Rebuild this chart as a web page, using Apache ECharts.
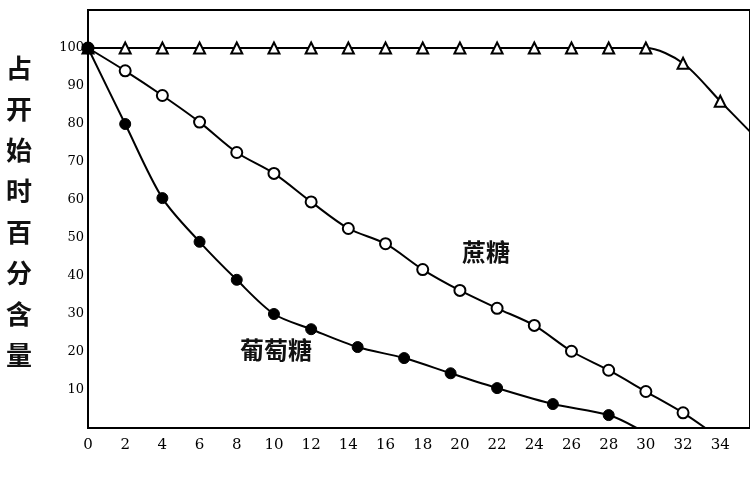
<!DOCTYPE html>
<html>
<head>
<meta charset="utf-8"/>
<script src="https://cdn.jsdelivr.net/npm/echarts@6/dist/echarts.min.js"></script>
<style>html,body{margin:0;background:#fff}#container{width:750px;height:500px}</style>
</head>
<body>
<div id="container"></div>
<script type="text/javascript">
    // 三角 (unlabelled), 蔗糖 (open circles), 葡萄糖 (filled dots)
    var triX = [0, 2, 4, 6, 8, 10, 12, 14, 16, 18, 20, 22, 24, 26, 28, 30, 32, 34, 35.6];
    var triY = [100, 100, 100, 100, 100, 100, 100, 100, 100, 100, 100, 100, 100, 100, 100, 100, 96, 86, 78];
    var sucX = [0, 2, 4, 6, 8, 10, 12, 14, 16, 18, 20, 22, 24, 26, 28, 30, 32, 33.2];
    var sucY = [100, 94, 87.5, 80.5, 72.5, 67, 59.5, 52.5, 48.5, 41.7, 36.2, 31.5, 27, 20.2, 15.2, 9.6, 4, 0];
    var gluX = [0, 2, 4, 6, 8, 10, 12, 14.5, 17, 19.5, 22, 25, 28, 29.5];
    var gluY = [100, 80, 60.5, 49, 39, 30, 26, 21.3, 18.4, 14.4, 10.5, 6.3, 3.4, 0];

    function pairs(xs, ys) {
        var out = [];
        for (var i = 0; i < xs.length; i++) out.push([xs[i], ys[i]]);
        return out;
    }
    function edge(xs) {
        // last point of each curve is where the line leaves the frame: no marker
        return function (v, p) { return p.dataIndex === xs.length - 1 && xs[xs.length - 1] % 2 !== 0 ? 0 : 11; };
    }

    var myChart = echarts.init(document.getElementById("container"));
    var numFont = 'DejaVu Serif';
    var option = {
        animation: false,
        grid: { left: 88, right: 0, top: 10, bottom: 72, show: true, borderColor: '#000', borderWidth: 2 },
        xAxis: {
            type: 'value', min: 0, max: 35.6, interval: 2,
            axisLine: { lineStyle: { color: '#000', width: 2 } },
            axisTick: { show: false }, splitLine: { show: false },
            axisLabel: { color: '#000', fontFamily: numFont, fontSize: 15, margin: 10, showMaxLabel: false }
        },
        yAxis: {
            type: 'value', min: 0, max: 110, interval: 10,
            axisLine: { lineStyle: { color: '#000', width: 2 } },
            axisTick: { show: false }, splitLine: { show: false },
            axisLabel: {
                color: '#000', fontFamily: numFont, fontSize: 13, margin: 4,
                formatter: function (v) { return (v === 0 || v === 110) ? '' : v; }
            }
        },
        graphic: [
            { type: 'text', left: 6, top: 48, style: { text: '占\n开\n始\n时\n百\n分\n含\n量', font: 'bold 26px "Noto Sans CJK SC"', lineHeight: 41, fill: '#111' } },
            { type: 'text', left: 462, top: 240, style: { text: '蔗糖', font: 'bold 24px "Noto Sans CJK SC"', fill: '#111' } },
            { type: 'text', left: 240, top: 338, style: { text: '葡萄糖', font: 'bold 24px "Noto Sans CJK SC"', fill: '#111' } }
        ],
        series: [
            {
                type: 'line', smooth: 0.3, data: pairs(triX, triY), symbol: 'triangle', symbolSize: edge(triX),
                lineStyle: { color: '#000', width: 2 }, itemStyle: { color: '#fff', borderColor: '#000', borderWidth: 2 }
            },
            {
                type: 'line', smooth: 0.3, data: pairs(sucX, sucY), symbol: 'circle', symbolSize: edge(sucX),
                lineStyle: { color: '#000', width: 2 }, itemStyle: { color: '#fff', borderColor: '#000', borderWidth: 2 }
            },
            {
                type: 'line', smooth: 0.3, data: pairs(gluX, gluY), symbol: 'circle', symbolSize: edge(gluX),
                lineStyle: { color: '#000', width: 2 }, itemStyle: { color: '#000', borderColor: '#000', borderWidth: 1 }
            }
        ]
    };
    myChart.setOption(option, true);
</script>
</body>
</html>
